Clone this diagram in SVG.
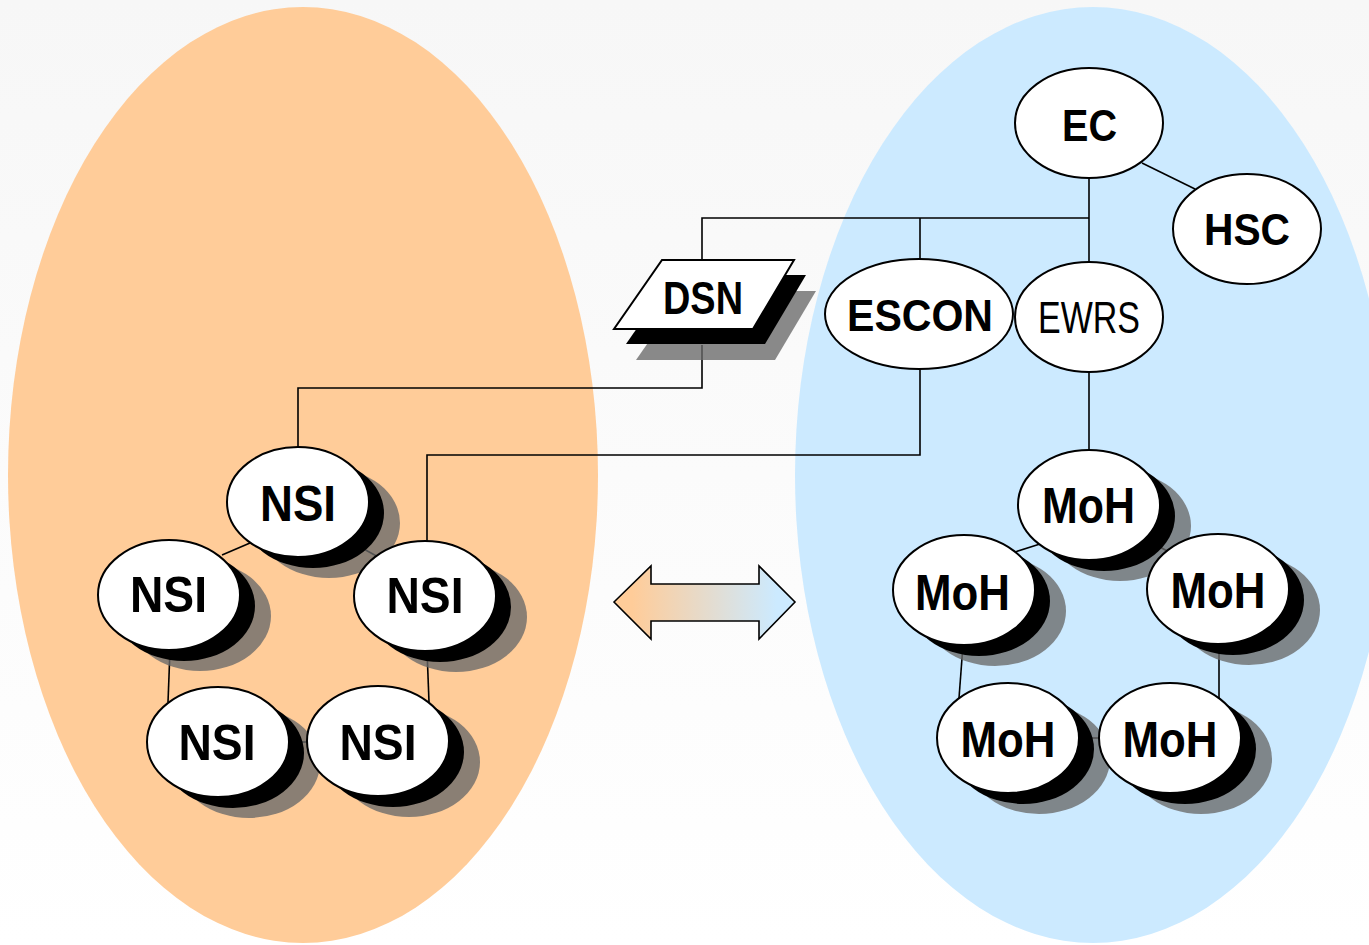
<svg xmlns="http://www.w3.org/2000/svg" width="1369" height="945" viewBox="0 0 1369 945">
<defs>
<linearGradient id="bg" x1="0" y1="0" x2="0" y2="1">
<stop offset="0" stop-color="#f7f7f7"/>
<stop offset="1" stop-color="#ffffff"/>
</linearGradient>
<linearGradient id="arr" x1="0" y1="0" x2="1" y2="0">
<stop offset="0.1" stop-color="#ffcc99"/>
<stop offset="0.9" stop-color="#cceaff"/>
</linearGradient>
<style>
.node{fill:#fff;stroke:#000;stroke-width:2}
.sh1{fill:#000}
.sh2{fill:#696969;opacity:0.78}
.lbl{font-family:"Liberation Sans",Arial,sans-serif;font-weight:bold;fill:#000;text-anchor:middle}
.reg{font-family:"Liberation Sans",Arial,sans-serif;font-weight:normal;fill:#000;text-anchor:middle}
.conn line,.conn polyline{stroke:#000;stroke-width:1.6;fill:none}
</style>
</defs>
<rect x="0" y="0" width="1369" height="945" fill="url(#bg)"/>
<ellipse cx="303" cy="475" rx="295" ry="468" fill="#ffcc99"/>
<ellipse cx="1093" cy="475" rx="298" ry="468" fill="#cceaff"/>

<g id="connectors" class="conn">
<line x1="1089" y1="179" x2="1089" y2="262"/>
<polyline points="702,260 702,218 1089,218"/>
<line x1="920" y1="218" x2="920" y2="260"/>
<line x1="1142" y1="163" x2="1195" y2="189"/>
<polyline points="702,345 702,388 298,388 298,447"/>
<polyline points="920,369 920,455 427,455 427,541"/>
<line x1="1089" y1="372" x2="1089" y2="450"/>
<line x1="222" y1="555" x2="250" y2="543"/>
<line x1="362" y1="548" x2="380" y2="558"/>
<line x1="170" y1="650" x2="168" y2="702"/>
<line x1="427" y1="650" x2="429" y2="702"/>
<line x1="285" y1="742" x2="312" y2="742"/>
<line x1="1015" y1="552" x2="1040" y2="544"/>
<line x1="1158" y1="546" x2="1180" y2="558"/>
<line x1="963" y1="645" x2="959" y2="698"/>
<line x1="1219" y1="644" x2="1219" y2="698"/>
<line x1="1077" y1="738" x2="1103" y2="738"/>
</g>

<g id="EC"><ellipse class="node" cx="1089" cy="123" rx="74" ry="55"/><text class="lbl" x="1089.5" y="141" font-size="44" textLength="55" lengthAdjust="spacingAndGlyphs">EC</text></g>
<g id="HSC"><ellipse class="node" cx="1247" cy="229" rx="74" ry="55"/><text class="lbl" x="1247" y="245" font-size="44" textLength="86" lengthAdjust="spacingAndGlyphs">HSC</text></g>
<g id="ESCON"><ellipse class="node" cx="919" cy="314" rx="94" ry="55"/><text class="lbl" x="920" y="331" font-size="44" textLength="146" lengthAdjust="spacingAndGlyphs">ESCON</text></g>
<g id="EWRS"><ellipse class="node" cx="1089" cy="317" rx="74" ry="55"/><text class="reg" x="1089" y="333" font-size="44" textLength="102" lengthAdjust="spacingAndGlyphs">EWRS</text></g>

<g id="DSN">
<polygon class="sh2" points="684,291 816,291 775,360 636,360"/>
<polygon class="sh1" points="674,275 806,275 765,344 626,344"/>
<polygon class="node" points="662,260 794,260 753,329 614,329"/>
<text class="lbl" x="703" y="314" font-size="46" textLength="80" lengthAdjust="spacingAndGlyphs">DSN</text>
</g>

<g id="NSI1"><ellipse class="sh2" cx="329" cy="523" rx="71" ry="55"/><ellipse class="sh1" cx="313" cy="513" rx="71" ry="55"/><ellipse class="node" cx="298" cy="502" rx="71" ry="55"/><text class="lbl" x="298" y="521" font-size="50" textLength="76" lengthAdjust="spacingAndGlyphs">NSI</text></g>
<g id="NSI2"><ellipse class="sh2" cx="200" cy="616" rx="71" ry="55"/><ellipse class="sh1" cx="184" cy="606" rx="71" ry="55"/><ellipse class="node" cx="169" cy="595" rx="71" ry="55"/><text class="lbl" x="168.5" y="612" font-size="50" textLength="77" lengthAdjust="spacingAndGlyphs">NSI</text></g>
<g id="NSI3"><ellipse class="sh2" cx="456" cy="617" rx="71" ry="55"/><ellipse class="sh1" cx="440" cy="607" rx="71" ry="55"/><ellipse class="node" cx="425" cy="596" rx="71" ry="55"/><text class="lbl" x="425" y="613" font-size="50" textLength="77" lengthAdjust="spacingAndGlyphs">NSI</text></g>
<g id="NSI4"><ellipse class="sh2" cx="249" cy="763" rx="71" ry="55"/><ellipse class="sh1" cx="233" cy="753" rx="71" ry="55"/><ellipse class="node" cx="218" cy="742" rx="71" ry="55"/><text class="lbl" x="217" y="760" font-size="50" textLength="77" lengthAdjust="spacingAndGlyphs">NSI</text></g>
<g id="NSI5"><ellipse class="sh2" cx="409" cy="762" rx="71" ry="55"/><ellipse class="sh1" cx="393" cy="752" rx="71" ry="55"/><ellipse class="node" cx="378" cy="741" rx="71" ry="55"/><text class="lbl" x="378" y="760" font-size="50" textLength="77" lengthAdjust="spacingAndGlyphs">NSI</text></g>

<g id="MoH1"><ellipse class="sh2" cx="1120" cy="526" rx="71" ry="55"/><ellipse class="sh1" cx="1104" cy="516" rx="71" ry="55"/><ellipse class="node" cx="1089" cy="505" rx="71" ry="55"/><text class="lbl" x="1088.5" y="523" font-size="50" textLength="93" lengthAdjust="spacingAndGlyphs">MoH</text></g>
<g id="MoH2"><ellipse class="sh2" cx="995" cy="611" rx="71" ry="55"/><ellipse class="sh1" cx="979" cy="601" rx="71" ry="55"/><ellipse class="node" cx="964" cy="590" rx="71" ry="55"/><text class="lbl" x="962.5" y="610" font-size="50" textLength="95" lengthAdjust="spacingAndGlyphs">MoH</text></g>
<g id="MoH3"><ellipse class="sh2" cx="1249" cy="610" rx="71" ry="55"/><ellipse class="sh1" cx="1233" cy="600" rx="71" ry="55"/><ellipse class="node" cx="1218" cy="589" rx="71" ry="55"/><text class="lbl" x="1218" y="608" font-size="50" textLength="95" lengthAdjust="spacingAndGlyphs">MoH</text></g>
<g id="MoH4"><ellipse class="sh2" cx="1039" cy="759" rx="71" ry="55"/><ellipse class="sh1" cx="1023" cy="749" rx="71" ry="55"/><ellipse class="node" cx="1008" cy="738" rx="71" ry="55"/><text class="lbl" x="1008" y="757" font-size="50" textLength="95" lengthAdjust="spacingAndGlyphs">MoH</text></g>
<g id="MoH5"><ellipse class="sh2" cx="1201" cy="759" rx="71" ry="55"/><ellipse class="sh1" cx="1185" cy="749" rx="71" ry="55"/><ellipse class="node" cx="1170" cy="738" rx="71" ry="55"/><text class="lbl" x="1170" y="757" font-size="50" textLength="95" lengthAdjust="spacingAndGlyphs">MoH</text></g>

<g id="arrow">
<polygon points="614,602 651,566 651,584 759,584 759,566 795,602 759,639 759,621 651,621 651,639" fill="url(#arr)" stroke="#000" stroke-width="1.6" stroke-linejoin="miter"/>
</g>
</svg>
